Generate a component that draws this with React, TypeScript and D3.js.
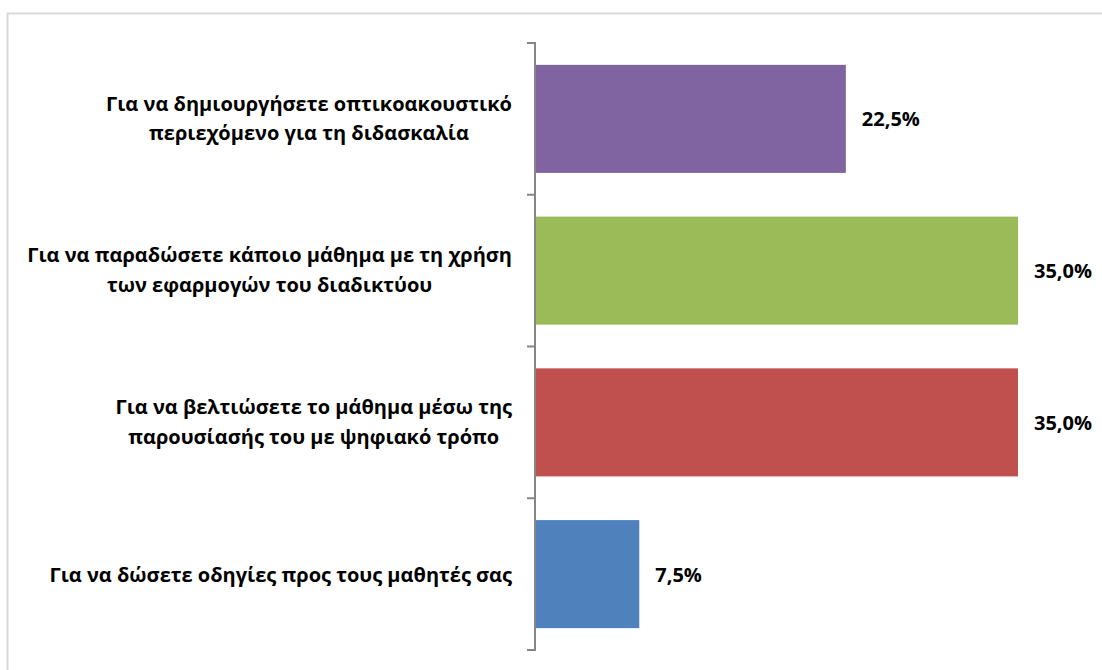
import React, { useEffect, useRef } from 'react'
import * as d3 from 'd3'

// top to bottom, as drawn
const categories = [
  'Για να δημιουργήσετε οπτικοακουστικό\nπεριεχόμενο για τη διδασκαλία',
  'Για να παραδώσετε κάποιο μάθημα με τη χρήση\nτων εφαρμογών του διαδικτύου',
  'Για να βελτιώσετε το μάθημα μέσω της\nπαρουσίασής του με ψηφιακό τρόπο',
  'Για να δώσετε οδηγίες προς τους μαθητές σας',
]
const values = [0.225, 0.35, 0.35, 0.075]
const colors = ['#8064A2', '#9BBB59', '#C0504D', '#4F81BD']

const W = 1102
const H = 670
const FONT = '"Open Sans", "Noto Sans", sans-serif'
const FS = 20

export default function App() {
  const ref = useRef<SVGSVGElement | null>(null)

  useEffect(() => {
    const svg = d3.select(ref.current)
    svg.selectAll('*').remove()

    // chart frame (right/bottom edges run off the picture)
    svg.append('rect')
      .attr('x', 7.5).attr('y', 13.5)
      .attr('width', W + 20).attr('height', H + 20)
      .attr('fill', '#fff').attr('stroke', '#D9D9D9').attr('stroke-width', 2)

    const x = d3.scaleLinear().domain([0, 0.35]).range([536, 1018])
    const y = d3.scaleBand<number>()
      .domain(d3.range(categories.length))
      .range([43, 650])
      .paddingInner(0.288)
      .paddingOuter(0.144)

    const step = y.step()
    const top = 43

    // axis line and ticks at band boundaries
    svg.append('line')
      .attr('x1', 535).attr('x2', 535).attr('y1', top).attr('y2', 650)
      .attr('stroke', '#868686').attr('stroke-width', 2)
    svg.append('g').selectAll('line')
      .data(d3.range(categories.length + 1))
      .enter().append('line')
      .attr('x1', 527).attr('x2', 536)
      .attr('y1', d => top + d * step).attr('y2', d => top + d * step)
      .attr('stroke', '#868686').attr('stroke-width', 2)

    svg.append('g').selectAll('rect')
      .data(values)
      .enter().append('rect')
      .attr('x', x(0))
      .attr('y', (_, i) => y(i) as number)
      .attr('width', d => x(d) - x(0))
      .attr('height', y.bandwidth())
      .attr('fill', (_, i) => colors[i])

    const fmt = (v: number) => (v * 100).toFixed(1).replace('.', ',') + '%'
    svg.append('g').selectAll('text')
      .data(values)
      .enter().append('text')
      .attr('x', d => x(d) + 16)
      .attr('y', (_, i) => (y(i) as number) + y.bandwidth() / 2 + 7.5)
      .attr('font-family', FONT).attr('font-weight', 'bold').attr('font-size', FS)
      .attr('fill', '#000')
      .text(d => fmt(d))

    // category labels: block right-aligned to 512, lines centred within it
    const labels = svg.append('g')
    categories.forEach((c, i) => {
      const lines = c.split('\n')
      const mid = (y(i) as number) + y.bandwidth() / 2
      const lh = 29.5
      const first = mid + 7.5 - ((lines.length - 1) * lh) / 2 - (lines.length > 1 ? 1 : 0)
      const nodes = lines.map((ln, j) =>
        labels.append('text')
          .attr('y', first + j * lh)
          .attr('text-anchor', 'middle')
          .attr('font-family', FONT).attr('font-weight', 'bold').attr('font-size', FS)
          .attr('fill', '#000')
          .text(ln)
      )
      const widest = d3.max(nodes, n => (n.node() as SVGTextElement).getComputedTextLength()) || 0
      nodes.forEach(n => n.attr('x', 512 - widest / 2))
    })
  }, [])

  return (
    <div style={{ position: 'absolute', left: 0, top: 0, width: W, height: H, background: '#fff' }}>
      <svg ref={ref} width={W} height={H} style={{ display: 'block' }} />
    </div>
  )
}
